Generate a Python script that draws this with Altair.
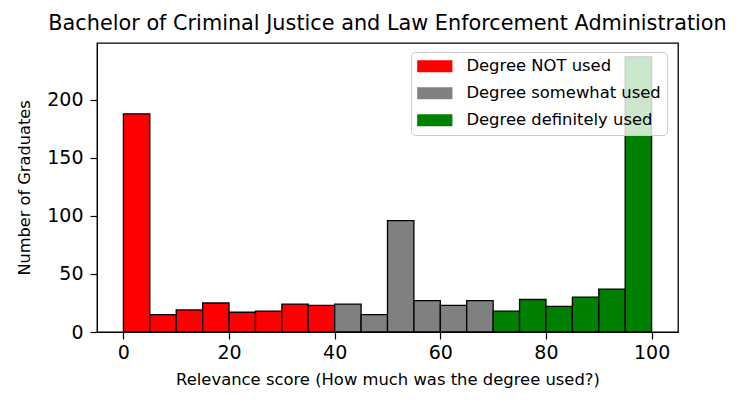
import altair as alt
import pandas as pd

bin_starts = [0, 5, 10, 15, 20, 25, 30, 35, 40, 45, 50, 55, 60, 65, 70, 75, 80, 85, 90, 95]
counts = [188, 15, 19, 25, 17, 18, 24, 23, 24, 15, 96, 27, 23, 27, 18, 28, 22, 30, 37, 237]
categories = ["Degree NOT used", "Degree somewhat used", "Degree definitely used"]
colors = ["#ff0000", "#808080", "#008000"]

def cat(s):
    if s < 40:
        return categories[0]
    if s < 70:
        return categories[1]
    return categories[2]

df = pd.DataFrame({
    "start": bin_starts,
    "end": [s + 5 for s in bin_starts],
    "count": counts,
    "usage": [cat(s) for s in bin_starts],
})

font = "DejaVu Sans"

chart = alt.Chart(df).mark_bar(stroke="black", strokeWidth=1.3, opacity=1).encode(
    x=alt.X("start:Q", scale=alt.Scale(domain=[-5, 105], nice=False, zero=False),
            axis=alt.Axis(values=[0, 20, 40, 60, 80, 100], title="Relevance score (How much was the degree used?)",
                          grid=False, domainColor="black", tickColor="black", tickSize=7, tickWidth=1.2,
                          labelFontSize=19, labelColor="black", titleFontSize=16.4, titleFontWeight="normal",
                          titleColor="black", labelPadding=4, titlePadding=9, labelFont=font, titleFont=font)),
    x2="end:Q",
    y=alt.Y("count:Q", scale=alt.Scale(domain=[0, 249], nice=False),
            axis=alt.Axis(values=[0, 50, 100, 150, 200], title="Number of Graduates",
                          grid=False, domainColor="black", tickColor="black", tickSize=7, tickWidth=1.2,
                          labelFontSize=19, labelColor="black", titleFontSize=16.2, titleFontWeight="normal",
                          titleColor="black", labelPadding=7, titlePadding=14, labelFont=font, titleFont=font)),
    y2=alt.datum(0),
    color=alt.Color("usage:N", scale=alt.Scale(domain=categories, range=colors),
                    legend=alt.Legend(title=None, orient="none", legendX=314, legendY=9,
                                      symbolType="M-1,-0.75H3.4V0.75H-1Z", symbolSize=256,
                                      symbolStrokeWidth=0, symbolOpacity=1,
                                      labelFontSize=16.4, labelFont=font, labelColor="black",
                                      labelOffset=33, labelLimit=400, rowPadding=10, padding=6,
                                      fillColor="rgba(255,255,255,0.8)", strokeColor="#cccccc",
                                      cornerRadius=4)),
).properties(
    width=581, height=289,
    padding={"left": 89, "top": 35, "right": 55, "bottom": 60},
    autosize=alt.AutoSizeParams(type="none"),
    title=alt.TitleParams("Bachelor of Criminal Justice and Law Enforcement Administration",
                          fontSize=20.8, font=font, fontWeight="normal", color="black",
                          anchor="middle", offset=8),
).configure_view(stroke="black", strokeWidth=1.3)

chart.save("out.html", embed_options={"renderer": "svg", "actions": False})
